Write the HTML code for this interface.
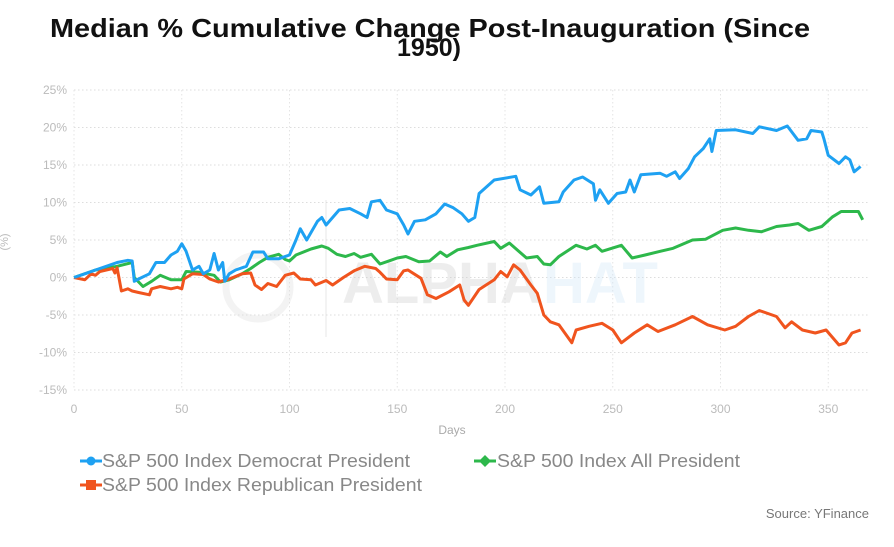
<!DOCTYPE html>
<html><head><meta charset="utf-8"><style>
body{margin:0;background:#fff;width:894px;height:542px;overflow:hidden;font-family:"Liberation Sans",sans-serif}
</style></head><body>
<svg width="894" height="542">
<text x="50" y="37" textLength="760" lengthAdjust="spacingAndGlyphs" font-size="26" font-weight="bold" fill="#111">Median % Cumulative Change Post-Inauguration (Since</text>
<text x="429" y="56" text-anchor="middle" font-size="25" font-weight="bold" fill="#111">1950)</text>
<g id="grid"></g>
<g opacity="0.35">
<circle cx="258" cy="287" r="32" fill="none" stroke="#ddd" stroke-width="7"/>
<line x1="326" y1="200" x2="326" y2="337" stroke="#ddd" stroke-width="2"/>
<text x="342" y="303" font-size="58" font-weight="bold" fill="#ccc">ALPHA</text>
<text x="543" y="303" font-size="58" font-weight="bold" fill="#cfe6f8">HAT</text>
</g>
<g id="series"></g>
<text x="8" y="242" font-size="11" fill="#bbb" transform="rotate(-90 8 242)" text-anchor="middle">(%)</text>
<text x="452" y="434" font-size="12" fill="#aaa" text-anchor="middle">Days</text>
<g><line x1="80" y1="461" x2="102" y2="461" stroke="#1ea1f2" stroke-width="3"/><circle cx="91" cy="461" r="4.5" fill="#1ea1f2"/><text x="102" y="467" textLength="308" lengthAdjust="spacingAndGlyphs" font-size="18" fill="#888">S&amp;P 500 Index Democrat President</text></g>
<g><line x1="474" y1="461" x2="496" y2="461" stroke="#2db84b" stroke-width="3"/><path d="M485 455 L491 461 L485 467 L479 461Z" fill="#2db84b"/><text x="497" y="467" textLength="243" lengthAdjust="spacingAndGlyphs" font-size="18" fill="#888">S&amp;P 500 Index All President</text></g>
<g><line x1="80" y1="485" x2="102" y2="485" stroke="#f0541e" stroke-width="3"/><rect x="86" y="480" width="10" height="10" fill="#f0541e"/><text x="102" y="491" textLength="320" lengthAdjust="spacingAndGlyphs" font-size="18" fill="#888">S&amp;P 500 Index Republican President</text></g>
<text x="869" y="518" font-size="13" fill="#777" text-anchor="end">Source: YFinance</text>
</svg>
<script>
const yTicks=[25,20,15,10,5,0,-5,-10,-15];
const xTicks=[0,50,100,150,200,250,300,350];
const demDays=[0,5,10,15,20,25,27,28,30,35,38,42,45,48,50,52,55,58,60,63,65,67,69,70,72,75,80,83,88,90,95,100,103,105,108,110,113,115,117,120,123,128,133,136,138,142,145,150,153,155,158,163,168,172,176,180,183,186,188,195,205,207,212,216,218,225,227,232,236,241,242,244,248,252,256,258,260,263,272,275,279,281,285,288,292,295,296,298,307,315,318,326,331,336,340,342,347,348,350,355,358,360,362,365];
const demVals=[0,0.5,1,1.5,2,2.3,2.2,-0.5,-0.2,0.5,2,2,3,3.5,4.5,3.5,1,1.5,0.5,1,3.2,1,2,-0.5,0.5,1,1.5,3.4,3.4,2.5,2.5,3,5,6.5,5,6,7.5,8,7,8,9,9.2,8.5,8,10.1,10.3,9,8.5,7,5.8,7.5,7.7,8.5,9.8,9.3,8.5,7.5,8,11.2,13,13.5,11.7,11,12.1,9.9,10.1,11.4,13,13.4,12.5,10.3,11.7,9.9,11.2,11.4,13,11.4,13.7,13.9,13.5,14.1,13.2,14.5,16.1,17.2,18.5,16.8,19.6,19.7,19.2,20.1,19.6,20.2,18.3,18.5,19.6,19.4,18.5,16.3,15.2,16.1,15.7,14.1,14.8];
const allDays=[0,10,20,27,28,32,36,40,45,50,52,58,65,68,72,78,82,86,90,95,98,100,103,110,115,118,122,126,130,133,138,142,147,150,154,160,165,170,173,178,183,187,195,198,202,210,215,218,221,225,233,238,242,245,254,259,265,272,278,287,293,301,307,313,319,326,332,336,341,347,352,356,361,364,366];
const allVals=[0,1,1.5,2,0,-1.2,-0.5,0.3,-0.3,-0.3,0.8,0.7,0.3,-0.6,-0.3,0.5,1.2,2,2.7,3.1,2.4,2.2,3,3.8,4.2,3.9,3.1,2.8,3.2,2.7,3.1,1.8,2.3,2.6,2.8,2.1,2.2,3.4,2.8,3.7,4,4.3,4.8,3.9,4.6,2.6,2.8,1.8,1.7,2.8,4.3,3.8,4.3,3.5,4.3,2.6,3,3.5,3.9,5,5.1,6.3,6.6,6.3,6.1,6.8,7,7.2,6.3,6.8,8.1,8.8,8.8,8.8,7.7];
const repDays=[0,5,8,10,12,15,18,19,20,22,25,27,30,35,36,40,45,48,50,51,55,60,63,67,72,78,82,84,87,90,94,98,102,105,110,112,117,120,125,130,135,140,142,145,150,153,155,161,164,168,174,179,181,183,188,195,198,201,204,207,212,215,218,221,225,231,233,239,245,250,254,260,266,271,279,287,294,302,307,313,318,326,330,333,338,344,349,355,358,361,365];
const repVals=[0,-0.3,0.5,0.3,0.8,1,1.2,0.6,1.3,-1.8,-1.5,-1.8,-2,-2.3,-1.5,-1.2,-1.5,-1.3,-1.5,-0.2,0.5,0.4,-0.2,-0.6,-0.2,0.5,0.6,-1,-1.6,-0.8,-1.2,0.3,0.6,-0.2,-0.3,-1,-0.4,-1,0,0.9,1.5,1.2,0.7,-0.2,-0.3,0.9,1,-0.1,-2.3,-2.8,-1.9,-1,-3,-3.7,-1.6,-0.3,0.8,0.1,1.7,1,-1,-2.1,-5,-5.9,-6.3,-8.7,-7,-6.5,-6.1,-7,-8.7,-7.4,-6.3,-7.2,-6.3,-5.2,-6.3,-7,-6.5,-5.2,-4.4,-5.2,-6.7,-5.9,-7,-7.4,-7,-9,-8.7,-7.4,-7];
const X=d=>74+d*2.155;
const Y=v=>277.5-v*7.5;
const NS="http://www.w3.org/2000/svg";
const grid=document.getElementById('grid');
yTicks.forEach(t=>{
 const l=document.createElementNS(NS,'line');
 l.setAttribute('x1',74);l.setAttribute('x2',868);l.setAttribute('y1',Y(t));l.setAttribute('y2',Y(t));
 l.setAttribute('stroke','#ddd');l.setAttribute('stroke-dasharray','1.5 2.5');
 
 
 grid.appendChild(l);
 const tx=document.createElementNS(NS,'text');
 tx.setAttribute('x',67);tx.setAttribute('y',Y(t)+4);tx.setAttribute('text-anchor','end');
 tx.setAttribute('font-size','12');tx.setAttribute('fill','#bbb');tx.textContent=t+'%';
 
 
 grid.appendChild(tx);
});
xTicks.forEach(t=>{
 const l=document.createElementNS(NS,'line');
 l.setAttribute('x1',X(t));l.setAttribute('x2',X(t));l.setAttribute('y1',Y(25));l.setAttribute('y2',Y(-15));
 l.setAttribute('stroke','#e4e4e4');l.setAttribute('stroke-dasharray','1.5 2.5');
 
 
 grid.appendChild(l);
 const tx=document.createElementNS(NS,'text');
 tx.setAttribute('x',X(t));tx.setAttribute('y',413);tx.setAttribute('text-anchor','middle');
 tx.setAttribute('font-size','12');tx.setAttribute('fill','#bbb');tx.textContent=t;
 
 
 grid.appendChild(tx);
});
const sg=document.getElementById('series');
function draw(days,vals,color,name){
 const p=document.createElementNS(NS,'polyline');
 p.setAttribute('points',days.map((d,i)=>X(d).toFixed(1)+','+Y(vals[i]).toFixed(1)).join(' '));
 p.setAttribute('fill','none');p.setAttribute('stroke',color);p.setAttribute('stroke-width','3');p.setAttribute('stroke-linejoin','round');
 
 
 sg.appendChild(p);
}
draw(allDays,allVals,'#2db84b','all-president-line');
draw(repDays,repVals,'#f0541e','republican-president-line');
draw(demDays,demVals,'#1ea1f2','democrat-president-line');
</script>
</body></html>
